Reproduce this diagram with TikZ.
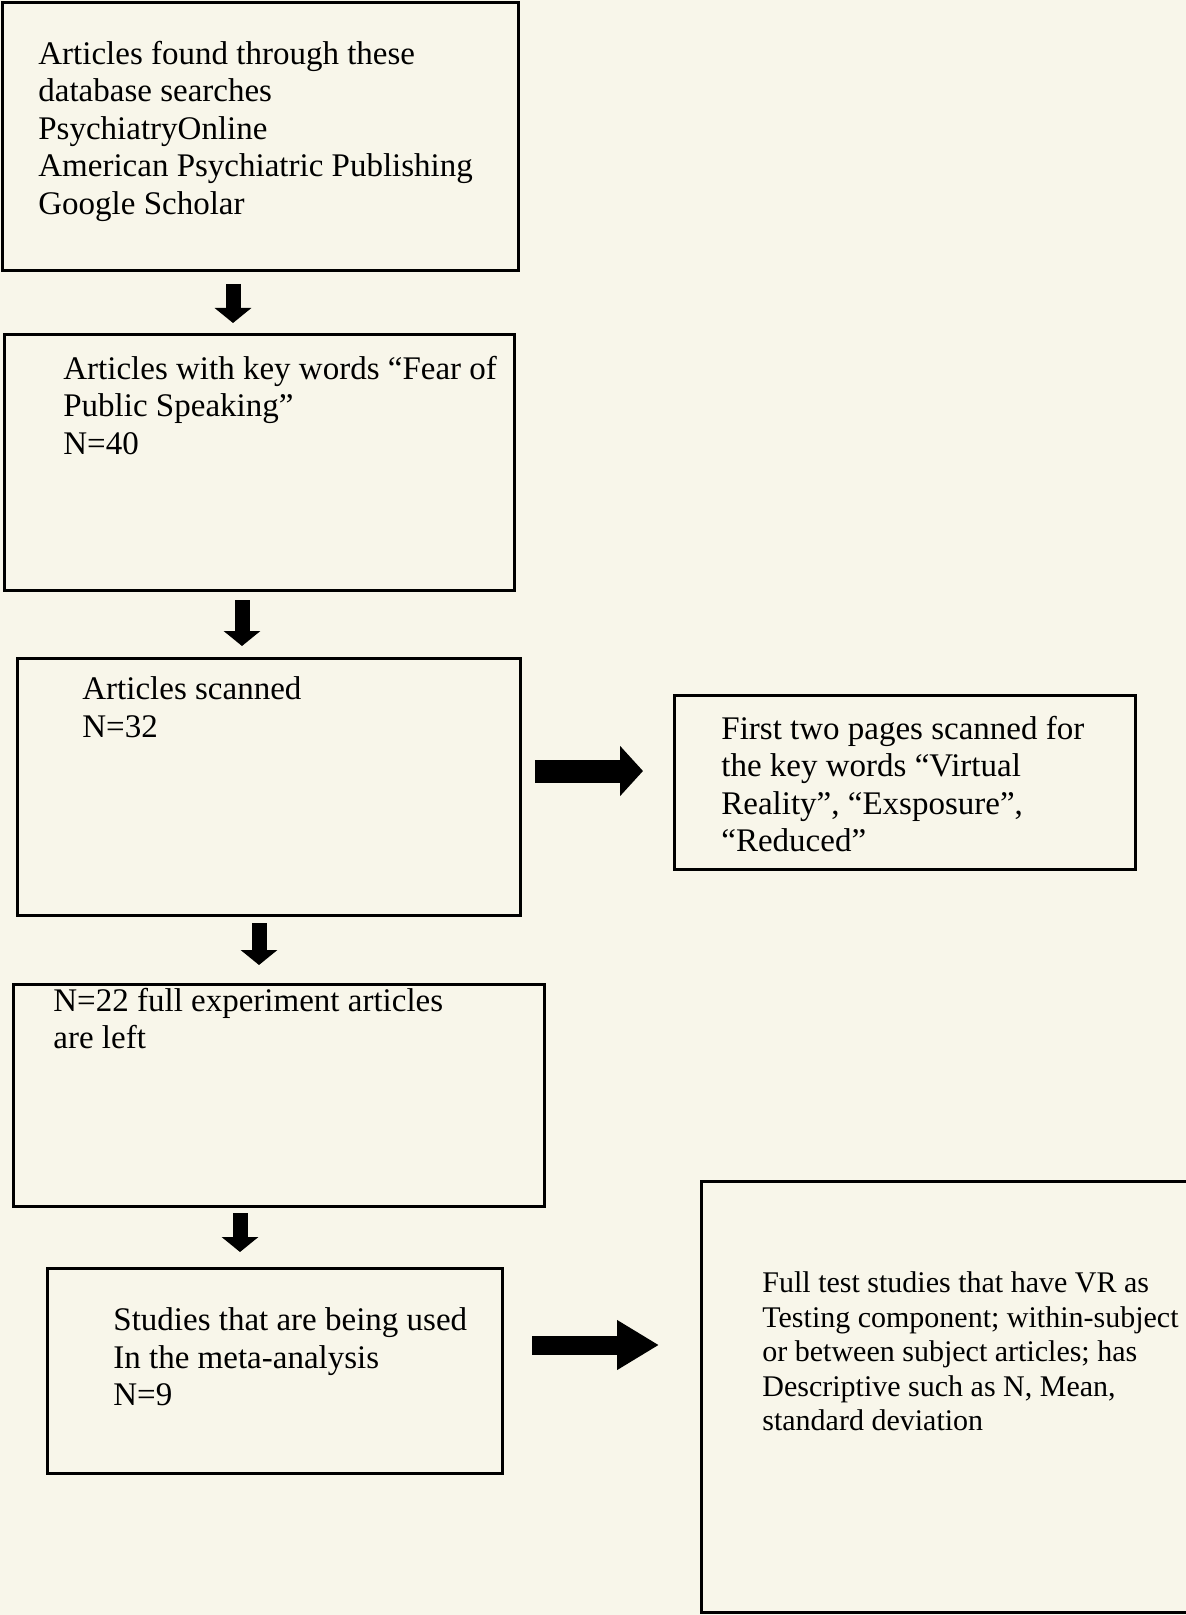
\documentclass[tikz,border=0pt]{standalone}
\usepackage{fontspec}
\setmainfont{Liberation Serif}
\usetikzlibrary{arrows.meta}
\definecolor{paper}{RGB}{248,246,234}

\begin{document}
\begin{tikzpicture}[x=0.5pt, y=-0.5pt]
    \tikzset{
        box/.style={draw, line width=1.5pt, inner sep=0pt, outer sep=0pt, anchor=north west},
        txt/.style={inner sep=0pt, anchor=north west, align=left, font=\fontsize{16.5}{18.75}\selectfont},
        downarrow/.style={line width=7.5pt, -{Triangle[length=7.5pt, width=18pt]}},
        sidearrow/.style={line width=11.5pt, -{Triangle[length=11.5pt, width=24.5pt]}}
    }
    \fill[paper] (0,0) rectangle (1186,1615);
    \useasboundingbox (0,0) rectangle (1186,1615);

    % boxes
    \node[box, minimum width=258pt, minimum height=134pt] (found) at (2,3) {};
    \node[box, minimum width=255pt, minimum height=127.5pt] (keywords) at (4,335) {};
    \node[box, minimum width=251.5pt, minimum height=128.5pt] (scanned) at (17,658) {};
    \node[box, minimum width=230.5pt, minimum height=87pt] (pages) at (674,695) {};
    \node[box, minimum width=265.5pt, minimum height=111pt] (remain) at (13,984) {};
    \node[box, minimum width=227.5pt, minimum height=102.5pt] (used) at (47,1268) {};
    \node[box, minimum width=243pt, minimum height=215.5pt] (criteria) at (701,1181) {};

    % texts
    \node[txt] (found-t) at (38,40.5) {Articles found through these\\database searches\\PsychiatryOnline\\American Psychiatric Publishing\\Google Scholar};
    \node[txt] (keywords-t) at (63,355.5) {Articles with key words “Fear of\\Public Speaking”\\N=40};
    \node[txt] (scanned-t) at (82,676.5) {Articles scanned\\N=32};
    \node[txt] (pages-t) at (721,715.5) {First two pages scanned for\\the key words “Virtual\\Reality”, “Exsposure”,\\“Reduced”};
    \node[txt] (remain-t) at (53,987.5) {N=22 full experiment articles\\are left};
    \node[txt] (used-t) at (113,1307.5) {Studies that are being used\\In the meta-analysis\\N=9};
    \node[txt, font=\fontsize{15}{17.25}\selectfont] (criteria-t) at (762,1271.5) {Full test studies that have VR as\\Testing component; within-subject\\or between subject articles; has\\Descriptive such as N, Mean,\\standard deviation};

    % arrows
    \draw[downarrow, shorten <=6.5pt, shorten >=6pt] (233,0 |- found.south) -- (233,0 |- keywords.north);
    \draw[downarrow, shorten <=5pt, shorten >=6pt] (242,0 |- keywords.south) -- (242,0 |- scanned.north);
    \draw[downarrow, shorten <=4pt, shorten >=9.5pt] (259,0 |- scanned.south) -- (259,0 |- remain.north);
    \draw[downarrow, shorten <=3.5pt, shorten >=8pt] (240,0 |- remain.south) -- (240,0 |- used.north);
    \draw[sidearrow, shorten <=7.5pt, shorten >=15.5pt] (scanned.east |- 0,771) -- (pages.west |- 0,771);
    \draw[line width=9.5pt, -{Triangle[length=21pt, width=23.5pt]}, shorten <=15pt, shorten >=21pt] (used.east |- 0,1345) -- (criteria.west |- 0,1345);
\end{tikzpicture}
\end{document}
